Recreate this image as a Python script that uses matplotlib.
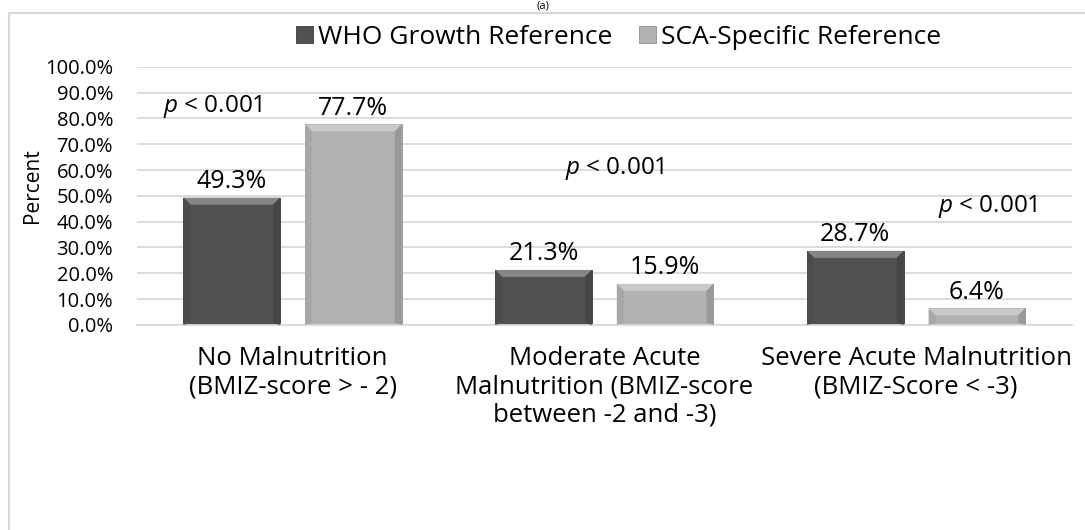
"""Grouped bar chart: malnutrition prevalence by WHO vs SCA-specific reference."""

import numpy as np
import matplotlib
matplotlib.use("Agg")
import matplotlib.pyplot as plt
from matplotlib.patches import Polygon, Rectangle
from matplotlib.ticker import FuncFormatter

categories = [
    "No Malnutrition\n(BMIZ-score > - 2)",
    "Moderate Acute\nMalnutrition (BMIZ-score\nbetween -2 and -3)",
    "Severe Acute Malnutrition\n(BMIZ-Score < -3)",
]
series_names = ["WHO Growth Reference", "SCA-Specific Reference"]
who_values = [49.3, 21.3, 28.7]
sca_values = [77.7, 15.9, 6.4]
p_labels = ["< 0.001", "< 0.001", "< 0.001"]
y_ticks = [0, 10, 20, 30, 40, 50, 60, 70, 80, 90, 100]

plt.rcParams["font.family"] = ["Open Sans", "DejaVu Sans"]
plt.rcParams["mathtext.fontset"] = "custom"
plt.rcParams["mathtext.it"] = "Open Sans:italic"
colors = ["#515151", "#b2b2b2"]


def shade(hex_color, f):
    rgb = np.array(matplotlib.colors.to_rgb(hex_color))
    if f > 0:
        rgb = rgb + (1 - rgb) * f
    else:
        rgb = rgb * (1 + f)
    return tuple(np.clip(rgb, 0, 1))


def add_bevel(ax, patch, base, px=7):
    """Draw a simple bevel frame on a bar, based on its display extent."""
    bb = patch.get_window_extent()
    inv = ax.transData.inverted()
    x0, y0 = inv.transform((bb.x0, bb.y0))
    x1, y1 = inv.transform((bb.x1, bb.y1))
    xi0, yi0 = inv.transform((bb.x0 + px, bb.y0 + 2))
    xi1, yi1 = inv.transform((bb.x1 - px, bb.y1 - px))
    faces = [
        ([(x0, y1), (x1, y1), (xi1, yi1), (xi0, yi1)], 0.3),    # top
        ([(x0, y0), (x0, y1), (xi0, yi1), (xi0, yi0)], -0.06),  # left
        ([(x1, y0), (x1, y1), (xi1, yi1), (xi1, yi0)], -0.14),  # right
    ]
    for pts, f in faces:
        ax.add_patch(Polygon(pts, closed=True, facecolor=shade(base, f),
                             edgecolor="none", zorder=3))


fig = plt.figure(figsize=(10.85, 5.3), dpi=100)
ax = fig.add_axes([0.126, 0.387, 0.862, 0.487])

# outer chart-area border
fig.patches.append(Rectangle((9 / 1085, -0.01), 1.1, 1 - 13 / 530 + 0.01,
                             transform=fig.transFigure, fill=False,
                             edgecolor="#d9d9d9", linewidth=1.5))
fig.text(0.5, 0.999, "(a)", ha="center", va="top", fontsize=8)

x = np.arange(len(categories))
width = 0.31
offset = 0.195
bars_who = ax.bar(x - offset, who_values, width, color=colors[0],
                  edgecolor="#3a3a3a", linewidth=0.6, label=series_names[0], zorder=2)
bars_sca = ax.bar(x + offset, sca_values, width, color=colors[1],
                  edgecolor="#8e8e8e", linewidth=0.6, label=series_names[1], zorder=2)

ax.set_xlim(-0.5, len(categories) - 0.5)
ax.set_ylim(0, 100)
ax.set_yticks(y_ticks)
ax.yaxis.set_major_formatter(FuncFormatter(lambda v, _: f"{v:.1f}%"))
ax.tick_params(axis="y", length=0, labelsize=14.5, pad=17)
ax.tick_params(axis="x", length=0, labelsize=18.5, pad=15)
ax.set_xticks(x)
ax.set_xticklabels(categories, linespacing=1.19)
ax.grid(axis="y", color="#d9d9d9", linewidth=1.3, zorder=0)
ax.set_axisbelow(True)
for s in ["top", "right", "left"]:
    ax.spines[s].set_visible(False)
ax.spines["bottom"].set_color("#d9d9d9")
ax.spines["bottom"].set_linewidth(1.3)
ax.set_ylabel("Percent", fontsize=15)
ax.yaxis.set_label_coords(-0.1, 0.54)

fig.canvas.draw()
for bars, c in [(bars_who, colors[0]), (bars_sca, colors[1])]:
    for b in bars:
        add_bevel(ax, b, c)

# value labels
for bars, vals in [(bars_who, who_values), (bars_sca, sca_values)]:
    for b, v in zip(bars, vals):
        ax.annotate(f"{v:.1f}%", (b.get_x() + b.get_width() / 2, v),
                    xytext=(0, 7), textcoords="offset points",
                    ha="center", va="baseline", fontsize=18)

# p-value annotations, placed relative to bar pairs
p_pos = [(x[0] - 0.256, 84.5), (x[1] + 0.034, 60.5), (x[2] + 0.23, 46)]
for (px_, py_), lab in zip(p_pos, p_labels):
    ax.text(px_, py_, r"$\mathit{p}$ " + lab, ha="center", va="center",
            fontsize=17.5)

fig.legend(handles=[bars_who, bars_sca], labels=series_names,
           loc="center left", bbox_to_anchor=(296 / 1085, 1 - 37 / 530),
           ncol=2, frameon=False, fontsize=19, handlelength=0.64,
           handleheight=0.64, handletextpad=0.2, columnspacing=1.0,
           borderpad=0, borderaxespad=0)

fig.savefig("out.png", dpi=100)
